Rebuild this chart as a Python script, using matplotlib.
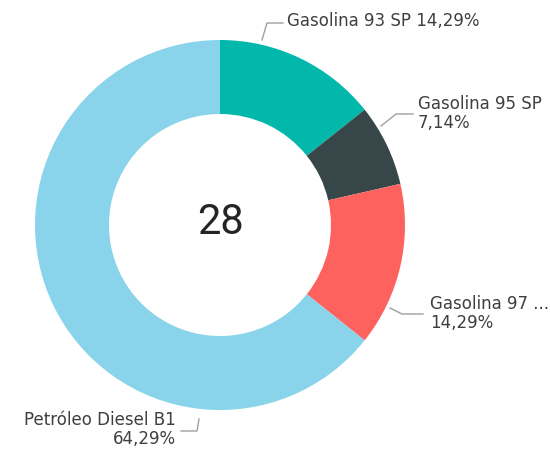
import matplotlib.pyplot as plt

categories = ['Gasolina 93 SP', 'Gasolina 95 SP', 'Gasolina 97 ...', 'Petróleo Diesel B1']
values = [4, 2, 4, 18]
colors = ['#01B8AA', '#374649', '#FD625E', '#8AD4EB']

plt.rcParams['font.family'] = ['DejaVu Sans']

fig = plt.figure(figsize=(5.5, 4.5), dpi=100)
ax = fig.add_axes([0, 0, 1, 1])

cx, cy, r = 220, 225, 185
ax.pie(values, colors=colors, startangle=90, counterclock=False,
       center=(cx, cy), radius=r, wedgeprops=dict(width=r * 0.4, linewidth=0),
       frame=True)
ax.set_xlim(0, 550)
ax.set_ylim(0, 450)
ax.set_aspect('equal')
ax.axis('off')

total = sum(values)
pct = ['{:.2f}%'.format(v / total * 100).replace('.', ',') for v in values]

ax.text(cx, cy + 2, str(total), ha='center', va='center', fontsize=30,
        color='#252423', family='Roboto')

tc = '#3f3f3f'
lc = '#A0A0A0'
fs = 12

# leader lines (pixel coords, y from top)
def line(pts):
    ax.plot([p[0] for p in pts], [450 - p[1] for p in pts], color=lc, lw=1)

line([(262, 40), (267, 23), (283, 23)])
ax.text(287, 450 - 21, categories[0] + ' ' + pct[0], ha='left', va='center', fontsize=fs, color=tc)

line([(381, 126), (396, 114), (413, 114)])
ax.text(418, 450 - 104, categories[1], ha='left', va='center', fontsize=fs, color=tc)
ax.text(418, 450 - 123, pct[1], ha='left', va='center', fontsize=fs, color=tc)

line([(390, 308), (402, 314), (423, 314)])
ax.text(430, 450 - 304, categories[2], ha='left', va='center', fontsize=fs, color=tc)
ax.text(430, 450 - 323, pct[2], ha='left', va='center', fontsize=fs, color=tc)

line([(181, 431), (197, 431), (199, 419)])
ax.text(176, 450 - 420, categories[3], ha='right', va='center', fontsize=fs, color=tc)
ax.text(176, 450 - 439, pct[3], ha='right', va='center', fontsize=fs, color=tc)

fig.savefig('out.png', dpi=100)
